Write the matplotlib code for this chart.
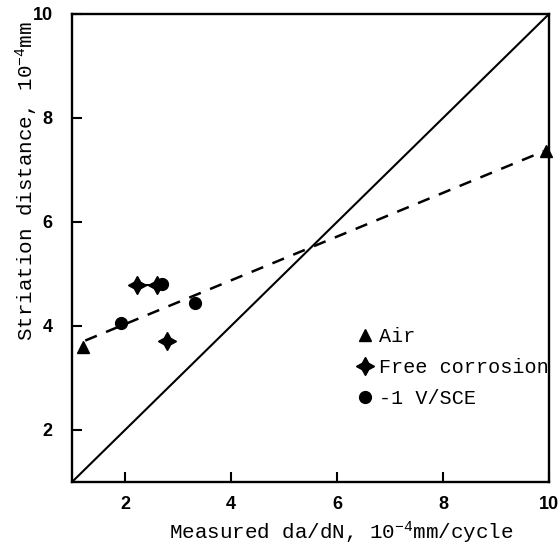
import matplotlib
matplotlib.use('Agg')
import matplotlib.pyplot as plt
from matplotlib.lines import Line2D

# data
air_x = [1.2, 9.95]
air_y = [3.6, 7.36]
free_x = [2.23, 2.6, 2.79]
free_y = [4.79, 4.79, 3.71]
cath_x = [1.92, 2.7, 3.32]
cath_y = [4.06, 4.81, 4.44]
fit_x = [1.25, 9.9]
fit_y = [3.72, 7.36]
ideal = [1, 10]
ticks = [2, 4, 6, 8, 10]

mono = 'Liberation Mono'
plt.rcParams['mathtext.fontset'] = 'custom'
plt.rcParams['mathtext.rm'] = mono
plt.rcParams['mathtext.it'] = mono

fig = plt.figure(figsize=(5.58, 5.46), dpi=100)
ax = fig.add_axes([72/558, 1 - 482/546, 477/558, 468/546])

ax.plot(ideal, ideal, color='black', lw=1.5)
ax.plot(fit_x, fit_y, color='black', lw=1.8, dashes=(5, 4))
ax.plot(free_x[:2], free_y[:2], color='black', lw=1.5)

star = (4, 1, 0)
ax.plot(air_x, air_y, '^', color='black', ms=9, clip_on=False)
ax.plot(free_x, free_y, marker=star, ls='none', color='black', ms=13)
ax.plot(cath_x, cath_y, 'o', color='black', ms=8.5)

ax.set_xlim(1, 10)
ax.set_ylim(1, 10)
ax.set_xticks(ticks)
ax.set_yticks(ticks)
ax.tick_params(direction='in', length=7, width=1.5, labelsize=13)
ax.tick_params(axis='y', pad=14)
ax.tick_params(axis='x', pad=10)
for lab in ax.get_xticklabels() + ax.get_yticklabels():
    lab.set_family('Liberation Sans')
    lab.set_weight('bold')
for s in ax.spines.values():
    s.set_linewidth(1.7)

ax.set_xlabel('Measured da/dN, $10^{-4}$mm/cycle', family=mono, fontsize=15)
ax.set_ylabel('Striation distance, $10^{-4}$mm', family=mono, fontsize=15)
ax.xaxis.set_label_coords(0.565, -0.08)
ax.yaxis.set_label_coords(-0.068, 0.643)

handles = [
    Line2D([], [], marker='^', ls='none', color='black', ms=9),
    Line2D([], [], marker=star, ls='none', color='black', ms=13),
    Line2D([], [], marker='o', ls='none', color='black', ms=8.5),
]
ax.legend(handles, ['Air', 'Free corrosion', '-1 V/SCE'], frameon=False,
          loc='upper left', bbox_to_anchor=(357/558, 1 - 327/546),
          bbox_transform=fig.transFigure, handlelength=0.8, handletextpad=0.3,
          labelspacing=0.6, borderpad=0, borderaxespad=0,
          prop={'family': mono, 'size': 14.5})

fig.savefig('out.png', dpi=100)
